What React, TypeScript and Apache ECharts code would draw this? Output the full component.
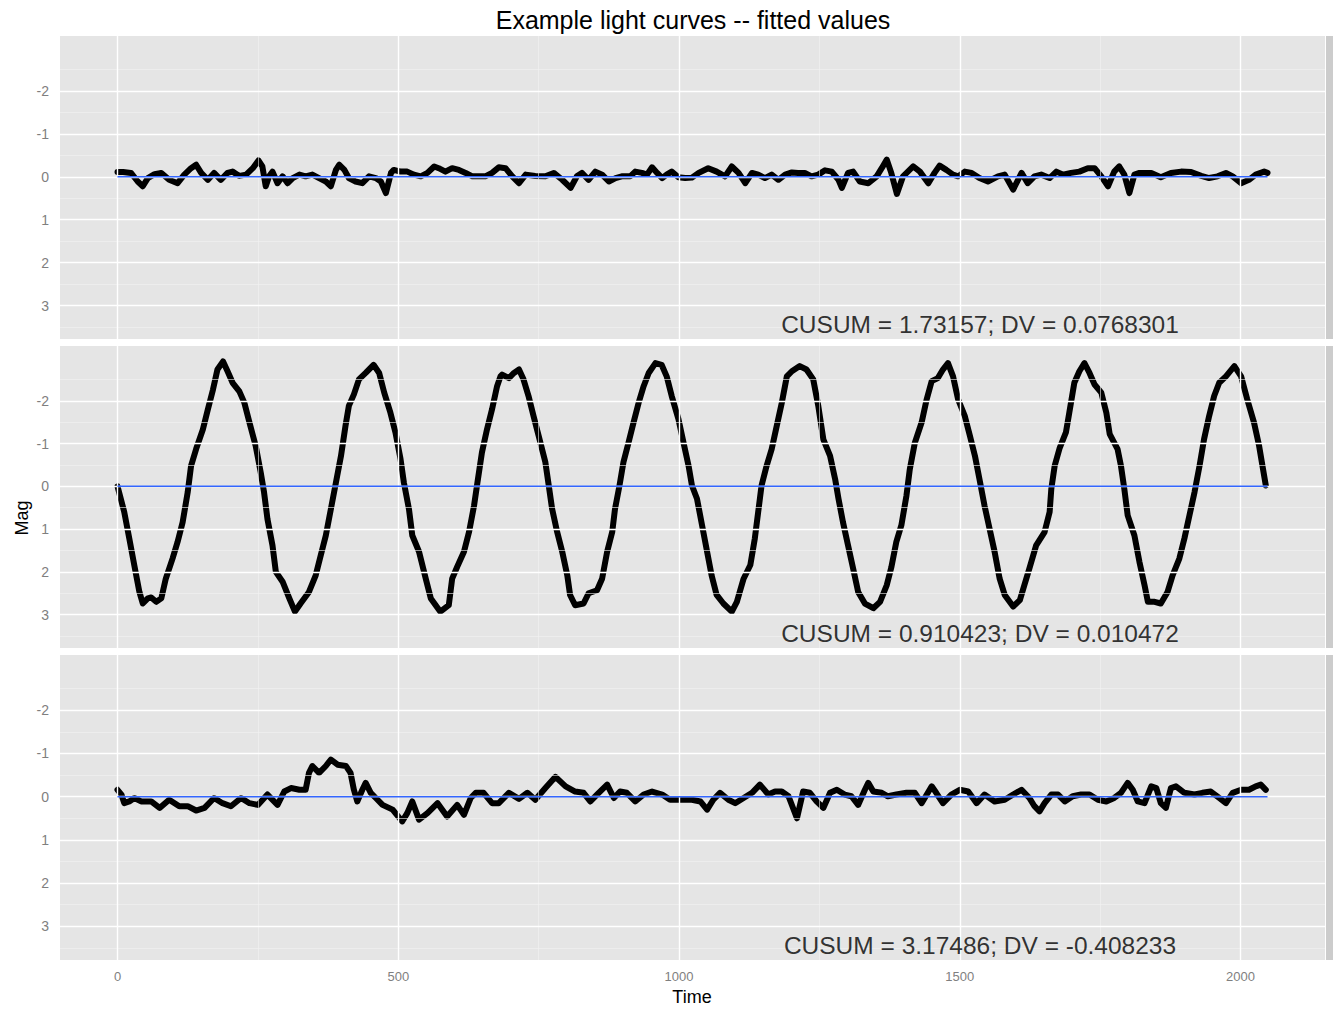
import React, { useEffect, useRef } from "react";
import * as echarts from "echarts";

const TITLE = "Example light curves -- fitted values";
const X_LABEL = "Time";
const Y_LABEL = "Mag";
const X_TICKS = [0, 500, 1000, 1500, 2000];
const X_MINOR = [250, 750, 1250, 1750];
const Y_TICKS = [-2, -1, 0, 1, 2, 3];
const Y_MINOR = [-2.5, -1.5, -0.5, 0.5, 1.5, 2.5, 3.5];
const ANNOTATIONS = [
  "CUSUM = 1.73157; DV = 0.0768301",
  "CUSUM = 0.910423; DV = 0.010472",
  "CUSUM = 3.17486; DV = -0.408233",
];
const ANNOT_POS = [1536, 3.45];
const FIT_START = [0, 0];
const FIT_END = [2048, 0];

const lc1 = [
  [0,-0.11],[10,-0.11],[24,-0.09],[36,0.11],[45,0.22],[54,0.03],[66,-0.06],[78,-0.09],[92,0.07],[107,0.15],
  [119,-0.05],[131,-0.2],[140,-0.28],[149,-0.09],[161,0.07],[172,-0.09],[184,0.07],[196,-0.09],[205,-0.12],[217,-0.02],
  [229,-0.05],[241,-0.2],[251,-0.38],[258,-0.24],[264,0.22],[270,-0.01],[276,-0.12],[285,0.15],[294,-0.01],[303,0.15],
  [312,0.03],[324,-0.05],[335,-0.01],[347,-0.05],[359,0.03],[371,0.11],[380,0.22],[389,-0.16],[395,-0.28],[404,-0.16],
  [412,0.03],[424,0.11],[436,0.15],[448,-0.01],[460,0.03],[469,0.11],[478,0.38],[487,-0.09],[492,-0.16],[504,-0.12],
  [516,-0.12],[528,-0.05],[540,-0.01],[552,-0.09],[564,-0.24],[572,-0.2],[584,-0.12],[596,-0.2],[608,-0.16],[620,-0.09],
  [632,-0.01],[644,-0.01],[655,-0.01],[667,-0.09],[679,-0.22],[691,-0.2],[703,-0.01],[715,0.15],[727,-0.05],[744,-0.02],
  [762,-0.01],[777,-0.09],[792,0.07],[807,0.26],[818,-0.01],[827,-0.09],[839,0.07],[851,-0.12],[863,-0.05],[875,0.11],
  [887,0.03],[898,-0.01],[913,-0.01],[922,-0.12],[934,-0.09],[943,-0.05],[952,-0.22],[961,-0.09],[970,0.03],[978,-0.05],
  [987,-0.12],[999,0.01],[1011,0.03],[1023,0.02],[1035,-0.09],[1052,-0.2],[1067,-0.12],[1082,-0.01],[1094,-0.24],[1106,-0.09],
  [1118,0.15],[1130,-0.09],[1141,-0.05],[1153,0.03],[1165,-0.05],[1177,0.07],[1189,-0.05],[1201,-0.1],[1212,-0.09],[1224,-0.09],
  [1236,-0.01],[1248,-0.05],[1260,-0.15],[1272,-0.12],[1284,0.07],[1290,0.26],[1301,-0.09],[1310,-0.12],[1322,0.11],[1337,0.15],
  [1352,-0.01],[1361,-0.2],[1370,-0.4],[1378,-0.09],[1388,0.4],[1399,-0.01],[1417,-0.24],[1429,-0.12],[1444,0.15],[1455,-0.09],
  [1464,-0.26],[1476,-0.16],[1488,-0.05],[1497,-0.01],[1509,-0.12],[1521,-0.09],[1535,0.03],[1550,0.11],[1568,-0.01],[1580,-0.05],
  [1595,0.3],[1610,-0.09],[1621,0.15],[1633,-0.01],[1645,-0.05],[1660,0.03],[1672,-0.12],[1684,-0.05],[1698,-0.09],[1713,-0.12],
  [1728,-0.2],[1740,-0.2],[1752,-0.01],[1764,0.22],[1775,-0.12],[1784,-0.24],[1793,-0.05],[1802,0.38],[1811,-0.05],[1820,-0.09],
  [1841,-0.09],[1858,0.01],[1876,-0.09],[1894,-0.12],[1912,-0.11],[1930,-0.02],[1944,0.03],[1959,-0.01],[1974,-0.09],[1986,-0.01],
  [2001,0.15],[2015,0.07],[2027,-0.05],[2042,-0.12],[2048,-0.09],
];

const lc2 = [
  [0,0],[12,0.6],[21,1.22],[30,1.85],[39,2.47],[45,2.74],[54,2.62],[60,2.6],[69,2.7],[78,2.62],
  [86,2.16],[98,1.69],[107,1.3],[116,0.84],[125,0.14],[131,-0.48],[140,-0.87],[152,-1.33],[161,-1.8],[170,-2.26],
  [178,-2.73],[188,-2.92],[196,-2.69],[205,-2.42],[217,-2.22],[226,-1.95],[235,-1.49],[246,-0.95],[255,-0.33],[261,0.14],
  [267,0.76],[276,1.38],[282,2.0],[294,2.23],[306,2.62],[316,2.93],[326,2.74],[341,2.47],[353,2.08],[362,1.61],
  [371,1.15],[380,0.53],[389,-0.09],[398,-0.71],[406,-1.41],[412,-1.88],[421,-2.15],[430,-2.5],[442,-2.65],[456,-2.84],
  [466,-2.65],[475,-2.19],[486,-1.72],[495,-1.26],[504,-0.64],[510,-0.09],[519,0.53],[525,1.15],[537,1.53],[549,2.16],
  [558,2.62],[575,2.93],[590,2.78],[596,2.16],[605,1.88],[617,1.53],[626,1.07],[635,0.45],[641,-0.09],[649,-0.79],
  [658,-1.33],[667,-1.8],[676,-2.34],[682,-2.57],[685,-2.61],[697,-2.53],[706,-2.65],[715,-2.73],[723,-2.5],[732,-2.11],
  [741,-1.64],[750,-1.18],[762,-0.56],[768,-0.02],[774,0.53],[783,1.07],[792,1.53],[801,2.08],[806,2.54],[815,2.78],
  [830,2.74],[839,2.5],[854,2.43],[863,2.16],[872,1.53],[881,1.07],[886,0.53],[894,-0.02],[901,-0.56],[910,-1.02],
  [919,-1.49],[928,-1.95],[937,-2.34],[946,-2.65],[958,-2.88],[969,-2.84],[978,-2.57],[987,-2.11],[999,-1.57],[1008,-1.02],
  [1017,-0.48],[1023,-0.02],[1032,0.29],[1041,0.91],[1050,1.53],[1058,2.08],[1067,2.54],[1079,2.74],[1094,2.93],[1103,2.7],
  [1115,2.16],[1127,1.84],[1135,1.22],[1141,0.6],[1147,-0.02],[1156,-0.48],[1165,-0.87],[1174,-1.41],[1183,-1.95],[1192,-2.57],
  [1201,-2.69],[1215,-2.81],[1227,-2.73],[1239,-2.5],[1248,-1.88],[1257,-1.1],[1269,-0.71],[1278,-0.17],[1284,0.29],[1292,0.84],
  [1301,1.38],[1310,1.92],[1319,2.47],[1331,2.74],[1346,2.85],[1358,2.7],[1370,2.31],[1378,1.9],[1387,1.3],[1396,0.91],
  [1405,0.22],[1411,-0.4],[1420,-1.02],[1432,-1.49],[1441,-2.03],[1450,-2.46],[1461,-2.53],[1470,-2.73],[1479,-2.88],[1488,-2.57],
  [1497,-2.03],[1509,-1.64],[1518,-1.18],[1527,-0.71],[1535,-0.17],[1544,0.45],[1553,0.99],[1562,1.53],[1571,2.16],[1580,2.54],
  [1595,2.81],[1607,2.66],[1615,2.31],[1624,1.92],[1636,1.38],[1651,1.07],[1660,0.6],[1663,0.06],[1669,-0.48],[1678,-0.9],
  [1689,-1.26],[1695,-1.72],[1704,-2.42],[1713,-2.69],[1722,-2.88],[1731,-2.65],[1740,-2.38],[1752,-2.19],[1761,-1.72],[1767,-1.22],
  [1781,-0.87],[1787,-0.48],[1793,0.06],[1799,0.68],[1811,1.15],[1820,1.77],[1829,2.31],[1835,2.7],[1847,2.7],[1858,2.74],
  [1870,2.47],[1879,2.08],[1891,1.69],[1900,1.22],[1909,0.68],[1918,0.14],[1927,-0.48],[1935,-1.1],[1944,-1.64],[1953,-2.11],
  [1962,-2.42],[1974,-2.57],[1989,-2.81],[2001,-2.57],[2012,-2.03],[2024,-1.49],[2033,-0.95],[2039,-0.48],[2045,-0.02],
];

const lc3 = [
  [0,-0.16],[7,-0.05],[12,0.15],[21,0.11],[30,0.03],[42,0.11],[60,0.11],[75,0.26],[92,0.07],[110,0.22],
  [125,0.22],[140,0.32],[155,0.26],[172,0.03],[187,0.15],[202,0.22],[220,0.03],[235,0.15],[250,0.19],[267,-0.05],
  [285,0.19],[297,-0.12],[309,-0.2],[324,-0.16],[335,-0.16],[341,-0.55],[347,-0.71],[359,-0.55],[371,-0.71],[380,-0.86],
  [392,-0.74],[407,-0.71],[415,-0.55],[421,-0.16],[427,0.11],[436,-0.16],[442,-0.32],[451,-0.09],[460,0.03],[472,0.19],
  [490,0.3],[507,0.57],[516,0.38],[525,0.11],[537,0.53],[552,0.38],[570,0.15],[587,0.46],[605,0.19],[617,0.42],
  [629,0.03],[638,-0.09],[652,-0.09],[667,0.15],[679,0.15],[697,-0.09],[715,0.05],[730,-0.09],[744,0.07],[762,-0.2],
  [780,-0.46],[798,-0.24],[815,-0.12],[830,-0.09],[842,0.11],[857,-0.09],[872,-0.28],[884,0.03],[895,-0.12],[907,-0.09],
  [922,0.11],[937,-0.05],[952,-0.12],[970,-0.05],[984,0.07],[1002,0.07],[1023,0.07],[1038,0.11],[1050,0.3],[1061,0.07],
  [1073,-0.09],[1088,0.07],[1100,0.15],[1115,0.03],[1130,-0.09],[1144,-0.28],[1159,-0.05],[1171,-0.12],[1183,-0.12],[1195,-0.01],
  [1210,0.5],[1221,-0.12],[1233,-0.09],[1245,0.11],[1257,0.26],[1269,-0.09],[1281,-0.16],[1295,-0.05],[1307,-0.01],[1319,0.19],
  [1331,-0.16],[1337,-0.32],[1346,-0.12],[1361,-0.09],[1372,-0.01],[1387,-0.05],[1405,-0.09],[1420,-0.09],[1432,0.15],[1450,-0.24],
  [1458,-0.09],[1470,0.15],[1485,-0.05],[1500,-0.16],[1515,-0.12],[1530,0.15],[1544,-0.05],[1562,0.11],[1580,0.07],[1595,-0.05],
  [1610,-0.16],[1624,0.03],[1633,0.22],[1642,0.34],[1651,0.15],[1663,-0.05],[1675,-0.05],[1687,0.11],[1701,-0.01],[1716,-0.05],
  [1731,-0.05],[1746,0.07],[1761,0.11],[1775,0.03],[1787,-0.09],[1799,-0.32],[1808,-0.16],[1817,0.11],[1829,0.15],[1841,-0.24],
  [1850,-0.2],[1858,0.15],[1867,0.26],[1876,-0.2],[1885,-0.24],[1900,-0.09],[1918,-0.05],[1932,-0.09],[1947,-0.12],[1962,0.03],
  [1974,0.15],[1986,-0.09],[2001,-0.16],[2015,-0.16],[2027,-0.24],[2036,-0.28],[2045,-0.16],
];

const CURVES = [lc1, lc2, lc3];

const W = 1333;
const H = 1010;
const PANEL_LEFT = 60;
const PANEL_RIGHT = 8;
const PANEL_TOPS = [36, 346, 655];
const PANEL_HEIGHTS = [303, 302, 305];
const X_MIN = -102.4;
const X_MAX = 2150.4;
const Y_MIN = -3.28;
const Y_MAX = 3.78;
const FONT = "Liberation Sans, Arial, sans-serif";

export default function App() {
  const ref = useRef<HTMLDivElement>(null);
  useEffect(() => {
    if (!ref.current) return;
    const chart = echarts.init(ref.current, undefined, { renderer: "svg" });

    const grids = PANEL_TOPS.map((top, i) => ({
      left: PANEL_LEFT,
      right: PANEL_RIGHT,
      top,
      height: PANEL_HEIGHTS[i],
      show: true,
      backgroundColor: "#E5E5E5",
      borderWidth: 0,
      containLabel: false,
    }));

    const xAxes = PANEL_TOPS.map((_, i) => ({
      type: "value",
      gridIndex: i,
      min: X_MIN,
      max: X_MAX,
      axisLine: { show: false },
      splitLine: { show: false },
      axisTick: {
        show: i === 2,
        customValues: X_TICKS,
        length: 4,
        lineStyle: { color: "#7F7F7F", width: 1 },
      },
      axisLabel: {
        show: i === 2,
        customValues: X_TICKS,
        formatter: (v: number) => String(v),
        margin: 10,
        color: "#7F7F7F",
        fontSize: 13,
        fontFamily: FONT,
      },
    }));

    const yAxes = PANEL_TOPS.map((_, i) => ({
      type: "value",
      gridIndex: i,
      min: Y_MIN,
      max: Y_MAX,
      inverse: true,
      axisLine: { show: false },
      splitLine: { show: false },
      axisTick: {
        show: true,
        customValues: Y_TICKS,
        length: 4,
        lineStyle: { color: "#7F7F7F", width: 1 },
      },
      axisLabel: {
        show: true,
        customValues: Y_TICKS,
        formatter: (v: number) => String(v),
        margin: 11,
        color: "#7F7F7F",
        fontSize: 14,
        fontFamily: FONT,
      },
    }));

    const series: any[] = [];
    PANEL_TOPS.forEach((_, i) => {
      const lines: any[] = [];
      Y_MINOR.forEach((v) =>
        lines.push({ yAxis: v, lineStyle: { color: "#F2F2F2", width: 0.6, type: "solid" } })
      );
      X_MINOR.forEach((v) =>
        lines.push({ xAxis: v, lineStyle: { color: "#F2F2F2", width: 0.6, type: "solid" } })
      );
      Y_TICKS.forEach((v) =>
        lines.push({ yAxis: v, lineStyle: { color: "#FFFFFF", width: 1.4, type: "solid" } })
      );
      X_TICKS.forEach((v) =>
        lines.push({ xAxis: v, lineStyle: { color: "#FFFFFF", width: 1.4, type: "solid" } })
      );
      series.push({
        type: "line",
        xAxisIndex: i,
        yAxisIndex: i,
        data: [],
        silent: true,
        z: 1,
        markLine: {
          silent: true,
          symbol: ["none", "none"],
          label: { show: false },
          animation: false,
          data: lines,
        },
      });
      series.push({
        type: "line",
        name: "mag" + i,
        xAxisIndex: i,
        yAxisIndex: i,
        data: CURVES[i],
        showSymbol: false,
        symbol: "none",
        z: 3,
        lineStyle: { color: "#000000", width: 6, join: "round", cap: "round" },
      });
      series.push({
        type: "line",
        name: "fit" + i,
        xAxisIndex: i,
        yAxisIndex: i,
        data: [FIT_START.slice(), FIT_END.slice()],
        showSymbol: false,
        symbol: "none",
        z: 6,
        lineStyle: { color: "#3366FF", width: 1.6, opacity: 1 },
      });
      series.push({
        type: "scatter",
        xAxisIndex: i,
        yAxisIndex: i,
        data: [ANNOT_POS],
        symbolSize: 1,
        itemStyle: { color: "rgba(0,0,0,0)" },
        z: 5,
        label: {
          show: true,
          position: "inside",
          formatter: ANNOTATIONS[i],
          color: "#000000",
          fontSize: 24.5,
          fontFamily: FONT,
        },
      });
    });

    const stripX = W - PANEL_RIGHT + 1;
    const graphics: any[] = PANEL_TOPS.map((top, i) => ({
      type: "rect",
      shape: { x: stripX, y: top, width: W - stripX, height: PANEL_HEIGHTS[i] },
      style: { fill: "#CCCCCC" },
      silent: true,
    }));
    graphics.push(
      {
        type: "text",
        x: 693,
        y: 20,
        style: {
          text: TITLE,
          fill: "#000",
          fontSize: 25,
          fontFamily: FONT,
          align: "center",
          verticalAlign: "middle",
        },
      },
      {
        type: "text",
        x: 692,
        y: 997,
        style: {
          text: X_LABEL,
          fill: "#000",
          fontSize: 18,
          fontFamily: FONT,
          align: "center",
          verticalAlign: "middle",
        },
      },
      {
        type: "text",
        x: 22,
        y: 518,
        rotation: Math.PI / 2,
        style: {
          text: Y_LABEL,
          fill: "#000",
          fontSize: 18,
          fontFamily: FONT,
          align: "center",
          verticalAlign: "middle",
        },
      }
    );

    chart.setOption({
      animation: false,
      backgroundColor: "#FFFFFF",
      grid: grids,
      xAxis: xAxes,
      yAxis: yAxes,
      series,
      graphic: graphics,
    });
    return () => chart.dispose();
  }, []);

  return (
    <div
      ref={ref}
      style={{ position: "absolute", left: 0, top: 0, width: W, height: H }}
    />
  );
}
